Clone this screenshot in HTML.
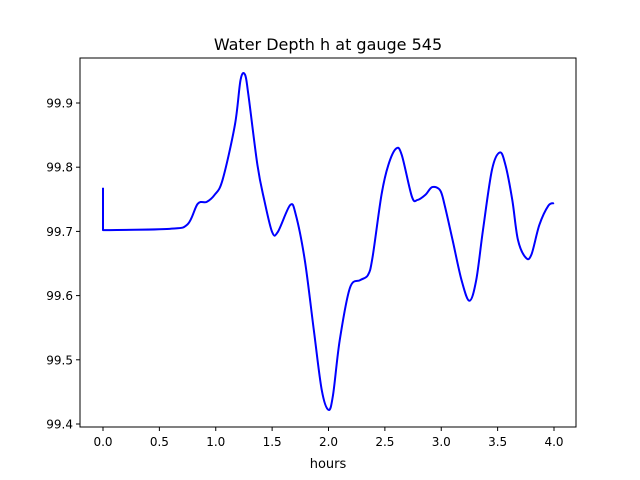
<!DOCTYPE html>
<html><head><meta charset="utf-8"><style>
body{margin:0;background:#fff;}
svg{display:block;font-family:"DejaVu Sans","Liberation Sans",sans-serif;}
</style></head><body>
<svg id="chart" width="640" height="480">
<rect x="0" y="0" width="640" height="480" fill="#fff"/>
<text x="328" y="50" font-size="16" text-anchor="middle">Water Depth h at gauge 545</text>
<g id="plot"></g>
<rect x="80" y="58" width="496" height="369" fill="none" stroke="#000" stroke-width="1"/>
<text x="328" y="468" font-size="13" text-anchor="middle">hours</text>
</svg>
<script>
const times=[0,0,0.59,0.75,0.84,0.92,0.99,1.06,1.17,1.22,1.26,1.29,1.37,1.43,1.50,1.55,1.66,1.71,1.79,1.87,1.94,2.00,2.04,2.10,2.19,2.28,2.35,2.39,2.47,2.53,2.60,2.65,2.74,2.79,2.86,2.92,2.99,3.03,3.10,3.18,3.25,3.31,3.37,3.45,3.52,3.57,3.63,3.68,3.75,3.80,3.87,3.95,4.0];
const depths=[99.768,99.702,99.704,99.711,99.743,99.746,99.757,99.780,99.866,99.936,99.944,99.912,99.803,99.749,99.699,99.699,99.741,99.726,99.655,99.546,99.453,99.422,99.445,99.531,99.612,99.624,99.632,99.659,99.757,99.803,99.829,99.819,99.754,99.749,99.757,99.769,99.764,99.741,99.687,99.624,99.592,99.624,99.702,99.796,99.823,99.803,99.749,99.687,99.659,99.664,99.710,99.740,99.744];
const xTicks=[0,0.5,1,1.5,2,2.5,3,3.5,4];
const xTickLabels=["0.0","0.5","1.0","1.5","2.0","2.5","3.0","3.5","4.0"];
const yTicks=[99.4,99.5,99.6,99.7,99.8,99.9];
const yTickLabels=["99.4","99.5","99.6","99.7","99.8","99.9"];
const NS="http://www.w3.org/2000/svg";
const X=t=>103+t*112.75;
const Y=h=>103+(99.9-h)*642;
const g=document.getElementById('plot');
function mk(tag,attrs){const e=document.createElementNS(NS,tag);for(const k in attrs)e.setAttribute(k,attrs[k]);g.appendChild(e);return e;}
xTicks.forEach((t,i)=>{
  const l=mk('line',{x1:X(t),x2:X(t),y1:427,y2:431,stroke:'#000'});
  
  
  const tx=mk('text',{x:X(t),y:446,'font-size':12,'text-anchor':'middle'});
  tx.textContent=xTickLabels[i];
  
  
});
yTicks.forEach((v,i)=>{
  const l=mk('line',{x1:76,x2:80,y1:Y(v),y2:Y(v),stroke:'#000'});
  
  
  const tx=mk('text',{x:73,y:Y(v)+4.5,'font-size':12,'text-anchor':'end'});
  tx.textContent=yTickLabels[i];
  
  
});
const pts=times.map((t,i)=>[X(t),Y(depths[i])]);
let d='M'+pts[0][0]+','+pts[0][1]+' L'+pts[1][0]+','+pts[1][1];
for(let i=1;i<pts.length-1;i++){
  const p0=pts[Math.max(i-1,1)],p1=pts[i],p2=pts[i+1],p3=pts[Math.min(i+2,pts.length-1)];
  const c1=[p1[0]+(p2[0]-p0[0])/6,p1[1]+(p2[1]-p0[1])/6];
  const c2=[p2[0]-(p3[0]-p1[0])/6,p2[1]-(p3[1]-p1[1])/6];
  d+=' C'+c1+' '+c2+' '+p2;
}
const path=mk('path',{d:d,fill:'none',stroke:'#0000ff','stroke-width':2,'stroke-linejoin':'round'});


</script>
</body></html>
